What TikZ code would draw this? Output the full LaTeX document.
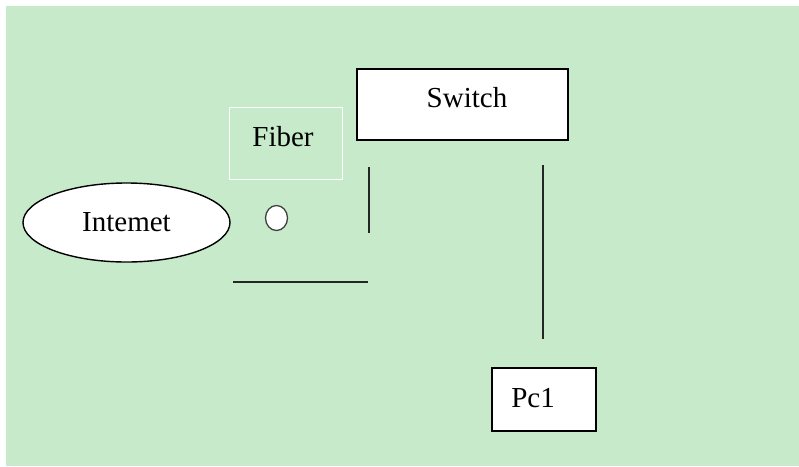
\documentclass[tikz,border=0pt]{standalone}
\usepackage{fontspec}
\setmainfont{Liberation Serif}
\usepackage{xcolor}
\usetikzlibrary{shapes.geometric}
\definecolor{bggreen}{RGB}{199,234,203}

\begin{document}
\begin{tikzpicture}[x=1pt, y=-1pt,
    lbl/.style={font=\fontsize{29}{31}\selectfont},
    box/.style={draw=black, fill=white, line width=1.4pt, inner sep=0pt, lbl},
    wire/.style={line width=1.4pt, draw=black!85}]
  % Page and background
  \useasboundingbox (0,0) rectangle (799,466);
  \fill[bggreen] (6,6) rectangle (799,466);

  % Internet cloud
  \node[ellipse, box, minimum width=207pt, minimum height=79pt] (inet) at (126.5,222.5) {Intemet};

  % Fiber label box (white outline only)
  \node[draw=white, line width=1pt, minimum width=113pt, minimum height=72pt, inner sep=0pt, lbl] (fiber) at (285.5,143) {};
  \node[lbl] (fibertext) at (283,137) {Fiber};

  % Small port circle
  \node[ellipse, draw=black!75, fill=white, line width=1.3pt, minimum width=22pt, minimum height=25pt, inner sep=0pt] (port) at (276.5,218) {};

  % Switch
  \node[box, minimum width=211pt, minimum height=71pt] (switch) at (462.5,104.5) {};
  \node[lbl] (switchtext) at (467,98) {Switch};

  % Pc1
  \node[box, minimum width=104pt, minimum height=63pt] (pc) at (544,399.5) {};
  \node[lbl] (pctext) at (533,398) {Pc1};

  % Loose cable ends
  \coordinate (ua) at (369,167);
  \coordinate (ub) at (369,233);
  \coordinate (la) at (233,282);
  \coordinate (lb) at (368,282);
  \coordinate (pa) at (543,165);
  \coordinate (pb) at (543,339);
  \draw[wire] (ua) -- (ub);
  \draw[wire] (la) -- (lb);
  \draw[wire] (pa) -- (pb);
\end{tikzpicture}
\end{document}
